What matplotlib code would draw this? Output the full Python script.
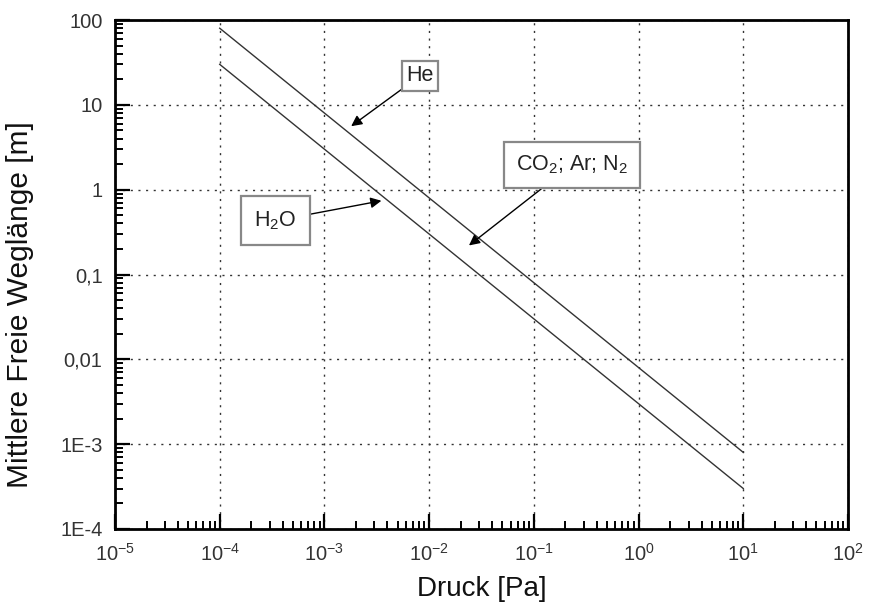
import matplotlib
matplotlib.use("Agg")
import matplotlib.pyplot as plt
from matplotlib.ticker import LogLocator, FixedLocator, FixedFormatter, NullFormatter

plt.rcParams['font.family'] = ['Liberation Sans', 'DejaVu Sans']
plt.rcParams['mathtext.fontset'] = 'custom'
plt.rcParams['mathtext.rm'] = 'Liberation Sans'
plt.rcParams['mathtext.it'] = 'Liberation Sans'

# data
pressure = [1e-4, 1e-3, 1e-2, 1e-1, 1, 10]
he_path = [80, 8, 0.8, 0.08, 0.008, 0.0008]
h2o_path = [30, 3, 0.3, 0.03, 0.003, 0.0003]

y_ticks = [1e-4, 1e-3, 1e-2, 1e-1, 1, 10, 100]
y_labels = ['1E-4', '1E-3', '0,01', '0,1', '1', '10', '100']
x_ticks = [1e-5, 1e-4, 1e-3, 1e-2, 1e-1, 1, 10, 100]
x_labels = ['$10^{-5}$', '$10^{-4}$', '$10^{-3}$', '$10^{-2}$',
            '$10^{-1}$', '$10^{0}$', '$10^{1}$', '$10^{2}$']

fig = plt.figure(figsize=(8.69, 6.12), dpi=100)
ax = fig.add_axes([115 / 869, 1 - 529 / 612, 733 / 869, 509 / 612])

ax.plot(pressure, he_path, color='#333333', lw=1.0)
ax.plot(pressure, h2o_path, color='#333333', lw=1.0)

ax.set_xscale('log')
ax.set_yscale('log')
ax.set_xlim(1e-5, 1e2)
ax.set_ylim(1e-4, 1e2)

ax.xaxis.set_major_locator(FixedLocator(x_ticks))
ax.xaxis.set_major_formatter(FixedFormatter(x_labels))
ax.yaxis.set_major_locator(FixedLocator(y_ticks))
ax.yaxis.set_major_formatter(FixedFormatter(y_labels))
ax.xaxis.set_minor_locator(LogLocator(base=10, subs=range(2, 10), numticks=20))
ax.yaxis.set_minor_locator(LogLocator(base=10, subs=range(2, 10), numticks=20))
ax.xaxis.set_minor_formatter(NullFormatter())
ax.yaxis.set_minor_formatter(NullFormatter())

ax.tick_params(which='major', direction='in', length=11, width=1.6,
               labelsize=14.5, labelcolor='#333333', pad=9,
               top=False, right=False)
ax.tick_params(axis='x', which='major', pad=10)
ax.tick_params(which='minor', direction='in', length=6, width=1.4,
               top=False, right=False)
for s in ax.spines.values():
    s.set_linewidth(2)

ax.grid(True, which='major', color='#333333', lw=1.0, ls=(0, (1.5, 4)))

ax.set_xlabel('Druck [Pa]', fontsize=20, color='#111111')
ax.set_ylabel('Mittlere Freie Weglänge [m]', fontsize=21.5, color='#111111')
ax.xaxis.set_label_coords(0.5, -0.093)
ax.yaxis.set_label_coords(-0.11, 0.44)

arrow = dict(arrowstyle='-|>', color='black', lw=1.0, mutation_scale=16,
             shrinkA=0, shrinkB=0)

ax.annotate('He', xy=(1.8e-3, 5.6), xytext=(8.2e-3, 22),
            ha='center', va='center', fontsize=15.5, color='#222222',
            bbox=dict(boxstyle='square,pad=0.2', fc='white', ec='#888888', lw=1.6),
            arrowprops=arrow)
ax.annotate('H$_2$O', xy=(3.5e-3, 0.74), xytext=(3.4e-4, 0.43),
            ha='center', va='center', fontsize=15.5, color='#222222',
            bbox=dict(boxstyle='square,pad=0.62', fc='white', ec='#888888', lw=1.6),
            arrowprops=arrow)
ax.annotate('CO$_2$; Ar; N$_2$', xy=(0.024, 0.22), xytext=(0.23, 1.95),
            ha='center', va='center', fontsize=15.5, color='#222222',
            bbox=dict(boxstyle='square,pad=0.55', fc='white', ec='#888888', lw=1.6),
            arrowprops=arrow)

fig.savefig('out.png', dpi=100)
